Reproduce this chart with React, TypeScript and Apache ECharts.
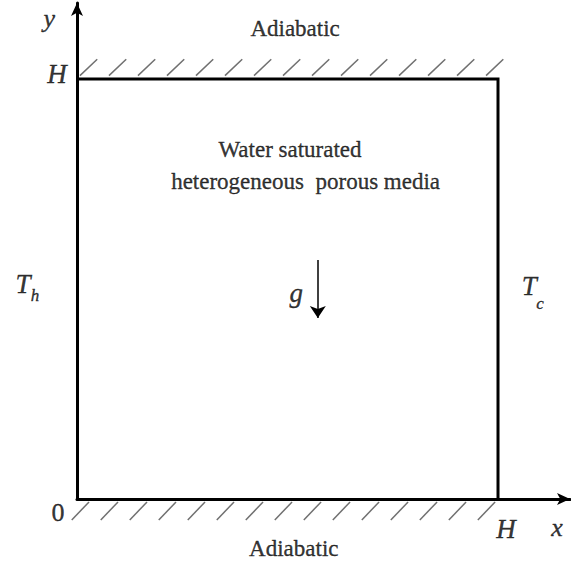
import React, { useEffect, useRef } from "react";
import * as echarts from "echarts";

// ---- domain (cavity side length H = 1) ----
const H = 1;
const X_MAX = 1.171; // x axis arrow end
const Y_MAX = 1.181; // y axis arrow end

// ---- texts ----
const axisNames = ["x", "y"];
const cornerLabels = ["0", "H", "H"];
const wallNotes = ["Adiabatic", "Adiabatic"];
const mediaLines = ["Water saturated", "heterogeneous  porous media"];
const tempSymbols = ["T", "T"];
const tempSubscripts = ["h", "c"];
const gravitySymbol = "g";

// ---- anchor positions (data units) ----
const axisNamePos = [[1.14, -0.069], [-0.066, 1.143]];
const cornerPos = [[-0.045, -0.031], [-0.0475, 1.012], [1.019, -0.071]];
const wallNotePos = [[0.518, 1.121], [0.515, -0.117]];
const mediaPos = [[0.506, 0.833], [0.543, 0.755]];
const tempPos = [[-0.128, 0.512], [1.074, 0.507]];
const subPos = [[-0.0998, 0.484], [1.1, 0.465]];
const gravityPos = [0.521, 0.49];
const gravityArrow = [[0.572, 0.569], [0.572, 0.431]];

// ---- hatch pattern (data units) ----
const HATCH_COUNT = 15;
const HATCH_STEP = 0.0689;
const TOP_HATCH_START = 0.007;
const BOTTOM_HATCH_START = 0.0285;
const HATCH_DX = 0.041;
const TOP_HATCH_Y = [1.008, 1.047];
const BOTTOM_HATCH_Y = [-0.007, -0.05];

const SERIF = "Liberation Serif";

function label(name: string, pos: number[], size: number, italic: boolean) {
  return {
    name,
    value: pos,
    label: {
      show: true,
      position: "inside",
      formatter: name,
      fontFamily: SERIF,
      fontSize: size,
      fontStyle: italic ? "italic" : "normal",
      color: "#000",
      textBorderColor: "#000",
      textBorderWidth: 0.35,
    },
  };
}

export default function App() {
  const ref = useRef<HTMLDivElement>(null);

  useEffect(() => {
    if (!ref.current) return;
    const chart = echarts.init(ref.current, undefined, { renderer: "svg" });

    const hatches: any[] = [];
    for (let k = 0; k < HATCH_COUNT; k++) {
      const xt = TOP_HATCH_START + k * HATCH_STEP;
      hatches.push({ coords: [[xt, TOP_HATCH_Y[0]], [xt + HATCH_DX, TOP_HATCH_Y[1]]] });
      const xb = BOTTOM_HATCH_START + k * HATCH_STEP;
      hatches.push({ coords: [[xb, BOTTOM_HATCH_Y[0]], [xb - HATCH_DX, BOTTOM_HATCH_Y[1]]] });
    }

    const labels: any[] = [];
    axisNames.forEach((n, i) => labels.push(label(n, axisNamePos[i], 26, true)));
    cornerLabels.forEach((n, i) => labels.push(label(n, cornerPos[i], i > 0 ? 27 : 26, i > 0)));
    wallNotes.forEach((n, i) => labels.push(label(n, wallNotePos[i], 23, false)));
    mediaLines.forEach((n, i) => labels.push(label(n, mediaPos[i], 23, false)));
    tempSymbols.forEach((n, i) => labels.push(label(n, tempPos[i], 27, true)));
    tempSubscripts.forEach((n, i) => labels.push(label(n, subPos[i], 17, true)));
    labels.push(label(gravitySymbol, gravityPos, 27, true));

    const axisCommon = {
      type: "value",
      splitLine: { show: false },
      axisTick: { show: false },
      axisLabel: { show: false },
      axisLine: {
        show: true,
        onZero: false,
        symbol: ["none", "arrow"],
        symbolSize: [9, 13],
        lineStyle: { color: "#000", width: 3 },
      },
    };

    chart.setOption({
      animation: false,
      backgroundColor: "#fff",
      grid: { left: 77, right: 1, top: 3, bottom: 67, outerBoundsMode: "none", containLabel: false },
      xAxis: { ...axisCommon, min: 0, max: X_MAX },
      yAxis: { ...axisCommon, min: 0, max: Y_MAX },
      series: [
        {
          type: "lines",
          coordinateSystem: "cartesian2d",
          polyline: true,
          silent: true,
          clip: false,
          lineStyle: { color: "#000", width: 3, join: "miter", opacity: 1 },
          data: [{ coords: [[0, H], [H, H], [H, 0]] }],
        },
        {
          type: "lines",
          coordinateSystem: "cartesian2d",
          silent: true,
          clip: false,
          lineStyle: { color: "#707070", width: 1.5, opacity: 1 },
          data: hatches,
        },
        {
          type: "lines",
          coordinateSystem: "cartesian2d",
          silent: true,
          clip: false,
          symbol: ["none", "arrow"],
          symbolSize: [8, 12],
          lineStyle: { color: "#000", width: 1.5, opacity: 1 },
          data: [{ coords: gravityArrow }],
        },
        {
          type: "scatter",
          silent: true,
          clip: false,
          symbolSize: 1,
          itemStyle: { color: "rgba(0,0,0,0)" },
          data: labels,
        },
      ],
    });

    return () => chart.dispose();
  }, []);

  return (
    <div
      ref={ref}
      style={{ position: "fixed", left: 0, top: 0, width: 571, height: 566, background: "#fff" }}
    />
  );
}
